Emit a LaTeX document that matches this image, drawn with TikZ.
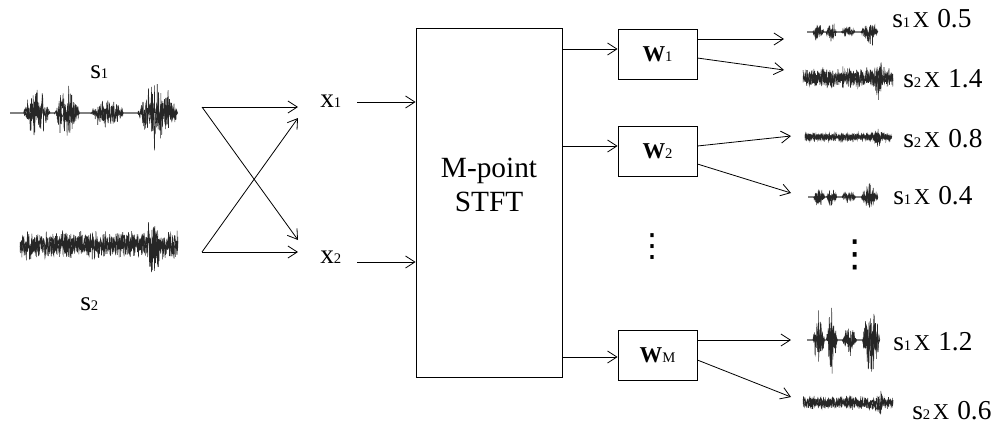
\documentclass[tikz,border=0pt]{standalone}
\usepackage{fontspec}
\setmainfont{Liberation Serif}
\newfontfamily\djv{DejaVu Sans}
\usetikzlibrary{arrows.meta}
\newcommand\sg[2]{{\fontsize{20.5pt}{20pt}\selectfont #1}{\fontsize{11pt}{11pt}\selectfont #2}}
\newcommand\mby[1]{\hspace{2pt}{\fontsize{17pt}{17pt}\selectfont X}\hspace{6pt}{\fontsize{20.5pt}{20pt}\selectfont #1}}
\newcommand\wlab[1]{{\fontsize{17pt}{17pt}\selectfont\bfseries W}{\fontsize{11pt}{11pt}\selectfont #1}}
\newcommand\wva[5]{\draw[wav] plot[domain=0:1,samples=#5,variable=\t] ({#1+\t*(#2-#1)},{#3+#4*envA(\t)*rand*(0.15+0.85*rnd)});}
\newcommand\wvb[5]{\draw[wav] plot[domain=0:1,samples=#5,variable=\t] ({#1+\t*(#2-#1)},{#3+#4*envB(\t)*rand*(0.3+0.7*rnd)});}
\begin{document}
\begin{tikzpicture}[x=0.75pt,y=-0.75pt,
  declare function={bmp(\xa,\xb,\xc)=max(0,1-((\xa-\xb)/\xc)*((\xa-\xb)/\xc));
    envA(\xa)=0.75*bmp(\xa,0.16,0.08)+0.85*bmp(\xa,0.34,0.075)+0.45*bmp(\xa,0.58,0.1)+1.0*bmp(\xa,0.88,0.12);
    envB(\xa)=0.42+0.58*bmp(\xa,0.84,0.045);},
  arr/.style={line width=0.6pt,-{Straight Barb[length=7pt,width=9pt]}},
  box/.style={draw,line width=0.6pt,inner sep=0pt},
  lab/.style={anchor=base west,inner sep=0pt},
  dts/.style={inner sep=0pt,font=\djv\fontsize{#1}{#1}\selectfont},
  wav/.style={line width=0.4pt,black!85}]
\useasboundingbox (0,0) rectangle (1003,430);
\pgfmathsetseed{7}
% input waveforms
\wva{10}{178}{113}{40}{600}
\wva{10}{178}{113}{33}{500}
\wvb{20}{178}{245}{40}{600}
\wvb{20}{178}{245}{34}{500}
\node[lab] (s1) at (90,78) {\sg{s}{1}};
\node[lab] (s2) at (80,310) {\sg{s}{2}};
% mixing
\coordinate (a1) at (202,107);
\coordinate (a2) at (202,252);
\coordinate (b11) at (298,107);
\coordinate (b12) at (298,240);
\coordinate (b21) at (298,118);
\coordinate (b22) at (298,252);
\draw[arr] (a1) -- (b11);
\draw[arr] (a1) -- (b12);
\draw[arr] (a2) -- (b21);
\draw[arr] (a2) -- (b22);
\node[lab] (x1) at (320,107) {\sg{x}{1}};
\node[lab] (x2) at (320,263) {\sg{x}{2}};
% STFT
\node[box,minimum width=109.5pt,minimum height=261.75pt] (stft) at (489,202.5) {};
\node[align=center,inner sep=0pt,font=\fontsize{22pt}{26pt}\selectfont] (stftlab) at (489,185) {M-point\\STFT};
\coordinate (x1o) at (357,102);
\coordinate (x2o) at (357,262);
\draw[arr] (x1o) -- (x1o -| stft.west);
\draw[arr] (x2o) -- (x2o -| stft.west);
% W boxes
\node[box,minimum width=59.25pt,minimum height=37.5pt] (w1) at (657.5,54) {\wlab{1}};
\node[box,minimum width=59.25pt,minimum height=37.5pt] (w2) at (657.5,151) {\wlab{2}};
\node[box,minimum width=59.25pt,minimum height=37.5pt] (wm) at (657.5,355) {\wlab{M}};
\coordinate (w1in) at ([yshift=3.75pt]w1.west);
\coordinate (w2in) at ([yshift=3.75pt]w2.west);
\coordinate (wmin) at ([yshift=-1.5pt]wm.west);
\draw[arr] (stft.east |- w1in) -- (w1in);
\draw[arr] (stft.east |- w2in) -- (w2in);
\draw[arr] (stft.east |- wmin) -- (wmin);
\node[dts=24pt] (dl) at (652,247) {⋮};
\node[dts=28pt] (dr) at (855,255) {⋮};
% outputs
\coordinate (o11) at (784,39);
\coordinate (o12) at (784,70);
\coordinate (o21) at (791,136);
\coordinate (o22) at (791,193);
\coordinate (om1) at (791,340);
\coordinate (om2) at (791,397);
\draw[arr] ([yshift=11.25pt]w1.east) -- (o11);
\draw[arr] ([yshift=-3pt]w1.east) -- (o12);
\draw[arr] ([yshift=3.75pt]w2.east) -- (o21);
\draw[arr] ([yshift=-9.75pt]w2.east) -- (o22);
\draw[arr] ([yshift=11.25pt]wm.east) -- (om1);
\draw[arr] ([yshift=-3.75pt]wm.east) -- (om2);
% output waveforms
\wva{807}{878}{32}{16}{300}
\wva{807}{878}{32}{13}{250}
\wvb{803}{893}{78}{28}{380}
\wvb{803}{893}{78}{24}{300}
\wvb{805}{892}{137}{12}{380}
\wvb{805}{892}{137}{10}{300}
\wva{808}{878}{197}{17}{300}
\wva{808}{878}{197}{14}{250}
\wva{807}{880}{340}{45}{320}
\wva{807}{880}{340}{38}{260}
\wvb{803}{893}{403}{18}{380}
\wvb{803}{893}{403}{15}{300}
\node[lab] (l11) at (892,27) {\sg{s}{1}\mby{0.5}};
\node[lab] (l12) at (903,87) {\sg{s}{2}\mby{1.4}};
\node[lab] (l21) at (903,147) {\sg{s}{2}\mby{0.8}};
\node[lab] (l22) at (893,204) {\sg{s}{1}\mby{0.4}};
\node[lab] (lm1) at (893,350) {\sg{s}{1}\mby{1.2}};
\node[lab] (lm2) at (912,419) {\sg{s}{2}\mby{0.6}};
\end{tikzpicture}
\end{document}
